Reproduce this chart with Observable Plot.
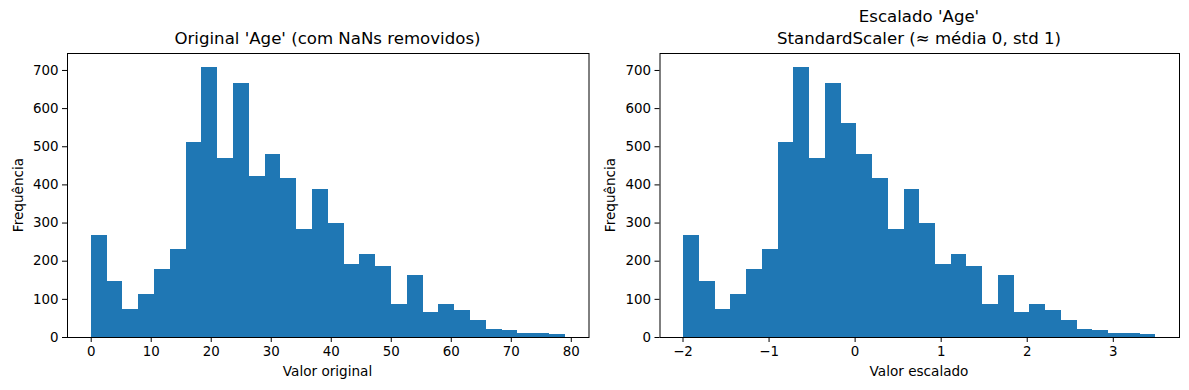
<!DOCTYPE html>
<html>
<head>
<meta charset="utf-8">
<script src="https://cdn.jsdelivr.net/npm/d3@7"></script>
<script src="https://cdn.jsdelivr.net/npm/@observablehq/plot@0.6"></script>
<style>
  html, body { margin: 0; padding: 0; background: #fff; }
  #fig { position: relative; width: 1189px; height: 390px; font-family: "DejaVu Sans", sans-serif; color: #000; overflow: hidden; }
  .t { position: absolute; white-space: nowrap; transform: translateX(-50%); font-size: 16.6px; line-height: 22px; text-align: center; }
  .xl { position: absolute; white-space: nowrap; transform: translateX(-50%); font-size: 13.6px; }
  .yl { position: absolute; white-space: nowrap; font-size: 13.6px; transform: translate(-50%, -50%) rotate(-90deg); }
  svg { position: absolute; top: 0; }
</style>
</head>
<body>
<div id="fig"></div>
<script>
// Bin counts (30 bins each)
const countsOriginal = [268, 148, 74, 113, 179, 231, 510, 709, 468, 667, 421, 481, 418, 284, 389, 300, 192, 218, 187, 87, 163, 66, 87, 71, 45, 21, 18, 10, 10, 7];
const countsScaled   = [268, 148, 74, 113, 179, 231, 510, 709, 468, 667, 560, 481, 418, 284, 389, 300, 192, 218, 187, 87, 163, 66, 87, 71, 45, 21, 18, 10, 10, 7];
const rangeOriginal = [0, 79];
const rangeScaled = [-1.993, 3.495];
const yTicks = [0, 100, 200, 300, 400, 500, 600, 700];
const xTicksOriginal = [0, 10, 20, 30, 40, 50, 60, 70, 80];
const xTicksScaled = [-2, -1, 0, 1, 2, 3];
const titleOriginal = "Original 'Age' (com NaNs removidos)";
const titleScaled = ["Escalado 'Age'", "StandardScaler (≈ média 0, std 1)"];
const xLabelOriginal = "Valor original";
const xLabelScaled = "Valor escalado";
const yLabel = "Frequência";

const BLUE = "#1f77b4";

function bins(counts, range) {
  const n = counts.length, w = (range[1] - range[0]) / n;
  return counts.map((c, i) => ({x1: range[0] + i * w, x2: range[0] + (i + 1) * w, count: c}));
}

function hist(counts, range, xTicks, opts) {
  const span = range[1] - range[0];
  const ymax = d3.max(counts) * 1.05;
  return Plot.plot({
    width: opts.width,
    height: 390,
    marginLeft: opts.ml,
    marginRight: opts.mr,
    marginTop: 53,
    marginBottom: 53,
    style: {fontFamily: "DejaVu Sans, sans-serif", fontSize: "13.4px", color: "#000", background: "transparent", overflow: "visible"},
    x: {domain: [range[0] - 0.05 * span, range[1] + 0.05 * span], label: null},
    y: {domain: [0, ymax], label: null},
    marks: [
      Plot.rectY(bins(counts, range), {x1: "x1", x2: "x2", y: "count", fill: BLUE, shapeRendering: "crispEdges"}),
      Plot.frame({stroke: "#000", strokeWidth: 1}),
      Plot.axisX({ticks: xTicks, tickSize: 5, tickPadding: 4, tickFormat: d3.format("~g")}),
      Plot.axisY({ticks: yTicks, tickSize: 5, tickPadding: 4})
    ]
  });
}

const fig = document.getElementById("fig");
const p1 = hist(countsOriginal, rangeOriginal, xTicksOriginal, {width: 594, ml: 67, mr: 5.5});
p1.style.left = "0px";
const p2 = hist(countsScaled, rangeScaled, xTicksScaled, {width: 595, ml: 65.5, mr: 10});
p2.style.left = "594px";
fig.appendChild(p1);
fig.appendChild(p2);

function addDiv(cls, text, x, y) {
  const d = document.createElement("div");
  d.className = cls;
  d.textContent = text;
  d.style.left = x + "px";
  d.style.top = y + "px";
  fig.appendChild(d);
  return d;
}
addDiv("t", titleOriginal, 327.5, 28);
const t2 = addDiv("t", "", 919, 6);
t2.innerHTML = titleScaled.join("<br>");
addDiv("xl", xLabelOriginal, 327.5, 363);
addDiv("xl", xLabelScaled, 919, 363);
addDiv("yl", yLabel, 18, 195);
addDiv("yl", yLabel, 610, 195);
</script>
</body>
</html>
